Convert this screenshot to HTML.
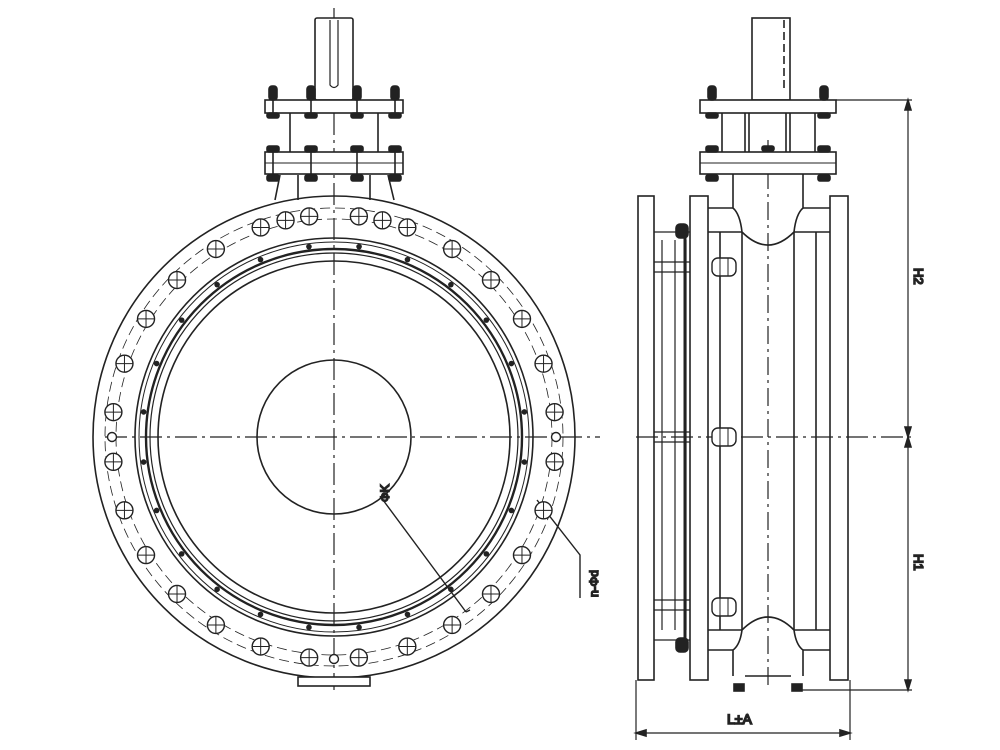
<!DOCTYPE html>
<html><head><meta charset="utf-8"><style>
html,body{margin:0;padding:0;background:#fff;width:1000px;height:750px;overflow:hidden}
svg{display:block}
text{font-family:"Liberation Sans",sans-serif;fill:#222}
</style></head><body>
<svg id="s" width="1000" height="750" viewBox="0 0 1000 750" fill="none" stroke="#222" stroke-width="1.6">
<!-- LEFT VIEW -->
<g id="L">
<circle cx="334" cy="437" r="241"/>
<circle cx="334" cy="437" r="199"/>
<circle cx="334" cy="437" r="195" stroke-width="1"/>
<circle cx="334" cy="437" r="188" stroke-width="2.4"/>
<circle cx="334" cy="437" r="184" stroke-width="1.2"/>
<circle cx="334" cy="437" r="176"/>
<circle cx="334" cy="437" r="77"/>
<circle cx="334" cy="437" r="218" stroke-width="0.8" stroke-dasharray="10 5"/>
<circle cx="334" cy="437" r="229" stroke-width="0.8" stroke-dasharray="10 5"/>
<line x1="334" y1="8" x2="334" y2="690" stroke-width="1.2" stroke-dasharray="22 5 3 5"/>
<line x1="105" y1="437" x2="600" y2="437" stroke-width="1.2" stroke-dasharray="22 5 3 5"/>
<!-- top bonnet -->
<rect x="315" y="18" width="38" height="82" rx="2" fill="#fff"/>
<path d="M330 20 V85 Q334 90 338 85 V20" stroke-width="1.2"/>
<rect x="265" y="100" width="138" height="13" fill="#fff"/>
<line x1="290" y1="113" x2="290" y2="152"/><line x1="378" y1="113" x2="378" y2="152"/>
<rect x="265" y="152" width="138" height="22" fill="#fff"/>
<line x1="265" y1="163" x2="403" y2="163" stroke-width="1"/>
<path d="M280 175 L275 200 M298 175 V200 M370 175 V200 M388 175 L394 200"/>
<g id="bolts" fill="#222"></g>
<!-- bottom lug -->
<rect x="298" y="677" width="72" height="9" fill="#fff"/>
<!-- leaders -->
<path d="M383 500 L466 612 M466 612 L470 610" stroke-width="1.4"/>
<path d="M537 500 L580 555 V598" stroke-width="1.4"/>
<text x="0" y="0" font-size="12" transform="translate(389,502) rotate(-90)">ΦK</text>
<text x="0" y="0" font-size="12" transform="translate(598,597) rotate(-90)">n-Φd</text>
<g id="holes" fill="#fff" stroke-width="1.4"></g>
<g id="dots" fill="#222" stroke="none"></g>
</g>
<!-- RIGHT VIEW -->
<g>
<line x1="768" y1="140" x2="768" y2="690" stroke-width="1.2" stroke-dasharray="18 5 3 5"/>
<line x1="636" y1="437" x2="912" y2="437" stroke-width="1.2" stroke-dasharray="22 5 3 5"/>
<rect x="752" y="18" width="38" height="82" fill="#fff"/>
<line x1="784" y1="20" x2="784" y2="88" stroke-dasharray="8 4"/>
<rect x="700" y="100" width="136" height="13" fill="#fff"/>
<path d="M722 113 V152 M815 113 V152 M745 113 V152 M790 113 V152 M749 113 V152 M786 113 V152"/>
<rect x="700" y="152" width="136" height="22" fill="#fff"/>
<line x1="700" y1="163" x2="836" y2="163" stroke-width="1"/>
<g fill="#222">
<rect x="708" y="86" width="8" height="14" rx="3"/><rect x="820" y="86" width="8" height="14" rx="3"/>
<rect x="706" y="113" width="12" height="5" rx="2"/><rect x="818" y="113" width="12" height="5" rx="2"/>
<rect x="706" y="146" width="12" height="6" rx="2"/><rect x="818" y="146" width="12" height="6" rx="2"/>
<rect x="706" y="175" width="12" height="6" rx="2"/><rect x="818" y="175" width="12" height="6" rx="2"/>
<rect x="762" y="146" width="12" height="5" rx="2"/>
</g>
<!-- neck -->
<path d="M733 174 V208 Q740 214 742 232 Q768 258 794 232 Q796 214 803 208 V174"/>
<path d="M733 676 V650 Q740 645 742 630 Q768 604 794 630 Q796 645 803 650 V676"/>
<line x1="745" y1="676" x2="791" y2="676"/>
<rect x="734" y="684" width="10" height="7" fill="#222"/><rect x="792" y="684" width="10" height="7" fill="#222"/>
<!-- body -->
<rect x="690" y="196" width="18" height="484" fill="none"/>
<rect x="830" y="196" width="18" height="484" fill="none"/>
<path d="M708 208 H733 M708 232 H742 M708 650 H733 M708 630 H742 M803 208 H830 M794 232 H830 M803 650 H830 M794 630 H830"/>
<path d="M720 232 V630 M742 232 V630 M794 232 V630 M816 232 V630"/>
<!-- left separate flange -->
<rect x="638" y="196" width="16" height="484"/>
<path d="M654 232 H690 M654 640 H690 M662 240 V630 M675 240 V630 M686 240 V630" stroke-width="1.2"/>
<path d="M685 228 V648" stroke-width="3"/>
<path d="M654 262 H690 M654 272 H690 M654 432 H690 M654 442 H690 M654 600 H690 M654 610 H690" stroke-width="1.2"/>
<g fill="#fff" stroke-width="1.4">
<rect x="712" y="258" width="24" height="18" rx="6"/><rect x="712" y="428" width="24" height="18" rx="6"/><rect x="712" y="598" width="24" height="18" rx="6"/>
</g>
<path d="M720 258 V276 M728 258 V276 M720 428 V446 M728 428 V446 M720 598 V616 M728 598 V616" stroke-width="1"/>
<rect x="676" y="224" width="12" height="14" rx="4" fill="#222"/><rect x="676" y="638" width="12" height="14" rx="4" fill="#222"/>
<!-- dimensions -->
<path d="M836 100 H912 M802 690 H912 M908 100 V690" stroke-width="1.2"/>
<path d="M908 100 l-3 10 h6z M908 690 l-3 -10 h6z M908 437 l-3 -10 h6z M908 437 l-3 10 h6z" fill="#222"/>
<path d="M636 680 V740 M850 680 V740 M636 733 H850" stroke-width="1.2"/>
<path d="M636 733 l10 -3 v6z M850 733 l-10 -3 v6z" fill="#222"/>
<text x="0" y="0" font-size="13" transform="translate(914,268) rotate(90)">H2</text>
<text x="0" y="0" font-size="13" transform="translate(914,554) rotate(90)">H1</text>
<text x="727" y="724" font-size="14">L±A</text>
</g>
<script>
var ns="http://www.w3.org/2000/svg",cx=334,cy=437;
function el(p,t,a){var e=document.createElementNS(ns,t);for(var k in a)e.setAttribute(k,a[k]);p.appendChild(e);return e;}
var H=document.getElementById("holes"),D=document.getElementById("dots"),B=document.getElementById("bolts");
for(var i=0;i<28;i++){var a=(i+0.5)*2*Math.PI/28;var x=cx+222*Math.cos(a),y=cy+222*Math.sin(a);
 if(y<205)continue;
 el(H,"circle",{cx:x,cy:y,r:8.5});
 el(H,"line",{x1:x-8,y1:y,x2:x+8,y2:y,"stroke-width":1});el(H,"line",{x1:x,y1:y-8,x2:x,y2:y+8,"stroke-width":1});}
[0,Math.PI/2,Math.PI].forEach(function(a){var x=cx+222*Math.cos(a),y=cy+222*Math.sin(a);el(H,"circle",{cx:x,cy:y,r:4.5});});
[-Math.PI/2+0.22,-Math.PI/2-0.22].forEach(function(a){var x=cx+222*Math.cos(a),y=cy+222*Math.sin(a);el(H,"circle",{cx:x,cy:y,r:8.5});el(H,"line",{x1:x-8,y1:y,x2:x+8,y2:y,"stroke-width":1});el(H,"line",{x1:x,y1:y-8,x2:x,y2:y+8,"stroke-width":1});});
for(var j=0;j<24;j++){var b=(j+0.5)*2*Math.PI/24;el(D,"circle",{cx:cx+192*Math.cos(b),cy:cy+192*Math.sin(b),r:2.8});}
[273,311,357,395].forEach(function(x){
 el(B,"rect",{x:x-4,y:86,width:8,height:14,rx:3});
 el(B,"rect",{x:x-6,y:113,width:12,height:5,rx:2});
 el(B,"rect",{x:x-6,y:146,width:12,height:6,rx:2});
 el(B,"rect",{x:x-6,y:175,width:12,height:6,rx:2});
 el(B,"line",{x1:x,y1:100,x2:x,y2:113,stroke:"#222"});
 el(B,"line",{x1:x,y1:152,x2:x,y2:174,stroke:"#222"});
});
</script>
</svg>
</body></html>
